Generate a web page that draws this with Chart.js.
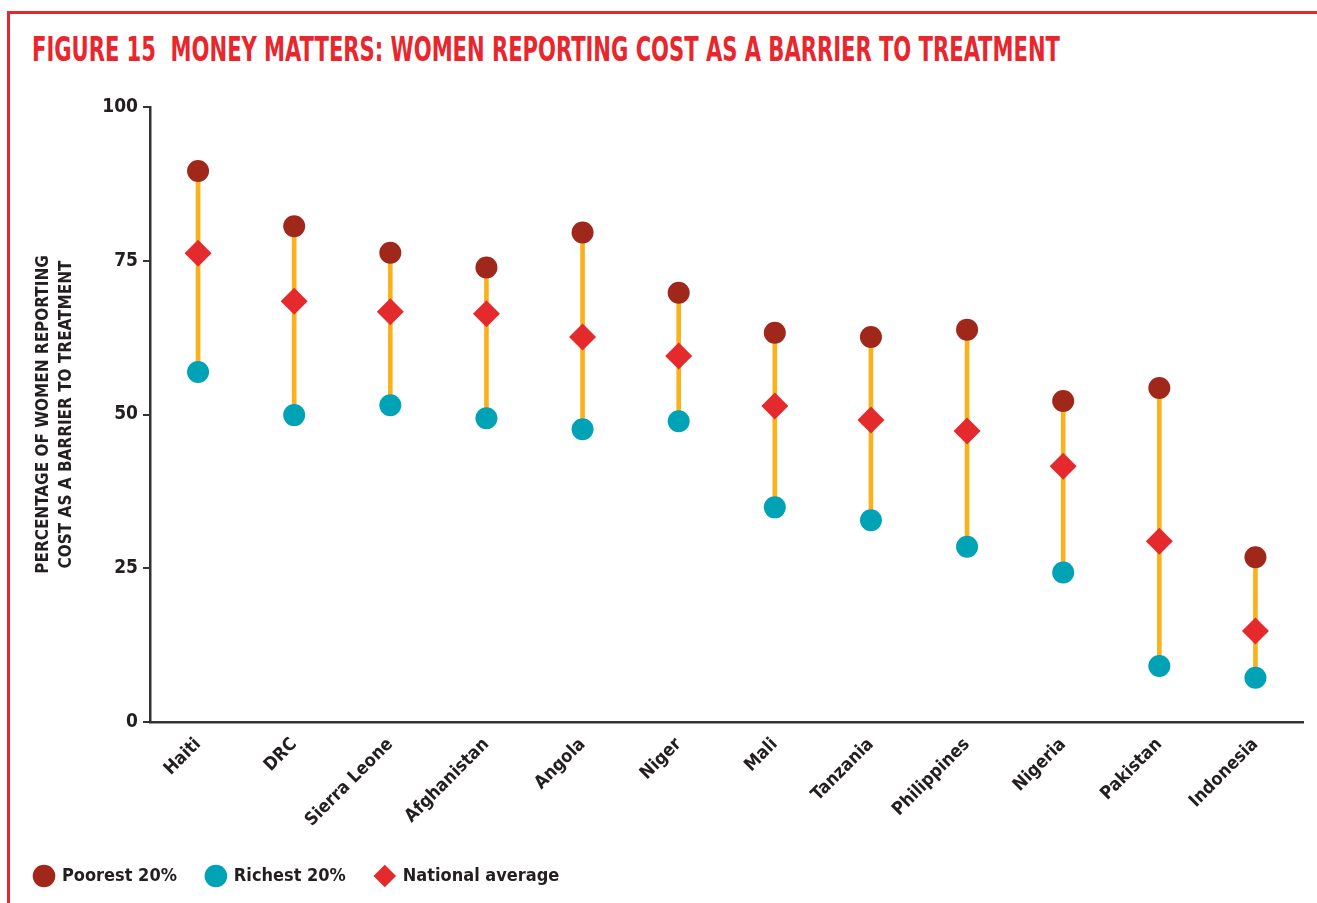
<!DOCTYPE html>
<html>
<head>
<meta charset="utf-8">
<script src="https://cdn.jsdelivr.net/npm/chart.js@4"></script>
<style>
  html, body { margin: 0; padding: 0; background: #fff; }
  #wrap { position: relative; width: 1317px; height: 903px; overflow: hidden; }
  #frame { position: absolute; left: 7px; top: 11px; right: -10px; bottom: -10px;
           border-top: 3px solid #E8262D; border-left: 3px solid #E8262D; }
  #title { position: absolute; left: 32px; top: 29px; white-space: nowrap;
           font-family: "Liberation Sans Narrow", "DejaVu Sans Condensed", sans-serif;
           font-weight: bold; font-size: 34px; color: #E8262D; transform-origin: 0 0; }
  canvas { position: absolute; left: 0; top: 0; }
</style>
</head>
<body>
<div id="wrap">
  <div id="frame"></div>
  <div id="title">FIGURE 15&nbsp;&nbsp;MONEY MATTERS: WOMEN REPORTING COST AS A BARRIER TO TREATMENT</div>
  <canvas id="chart" width="1317" height="903"></canvas>
</div>
<script>
const countries = ['Haiti', 'DRC', 'Sierra Leone', 'Afghanistan', 'Angola', 'Niger', 'Mali',
  'Tanzania', 'Philippines', 'Nigeria', 'Pakistan', 'Indonesia'];
const poorest = [89.6, 80.6, 76.3, 73.9, 79.6, 69.8, 63.3, 62.6, 63.8, 52.2, 54.3, 26.8];
const richest = [56.9, 49.9, 51.5, 49.4, 47.6, 48.9, 34.9, 32.8, 28.5, 24.3, 9.1, 7.2];
const national = [76.2, 68.4, 66.7, 66.4, 62.6, 59.5, 51.4, 49.1, 47.3, 41.6, 29.4, 14.8];
const yTicks = [0, 25, 50, 75, 100];

const FONT = '"Liberation Sans Narrow", "DejaVu Sans Condensed", sans-serif';
const INK = '#231F20';

// squeeze the title to the width it has in the print version
const title = document.getElementById('title');
title.style.transform = `scaleX(${1028 / title.scrollWidth})`;

const ranges = richest.map((r, i) => [r, poorest[i]]);

new Chart(document.getElementById('chart'), {
  type: 'bar',
  data: {
    labels: countries,
    datasets: [
      { type: 'bar', label: 'range', data: ranges, backgroundColor: '#F9B21C',
        barThickness: 4, order: 5 },
      { type: 'line', label: 'Poorest 20%', data: poorest, showLine: false,
        pointStyle: 'circle', pointRadius: 11, pointHoverRadius: 11,
        backgroundColor: '#A0281A', borderColor: '#A0281A', borderWidth: 0, order: 2 },
      { type: 'line', label: 'Richest 20%', data: richest, showLine: false,
        pointStyle: 'circle', pointRadius: 11, pointHoverRadius: 11,
        backgroundColor: '#00A3B5', borderColor: '#00A3B5', borderWidth: 0, order: 2 },
      { type: 'line', label: 'National average', data: national, showLine: false,
        pointStyle: 'rectRot', pointRadius: 13.5, pointHoverRadius: 13.5,
        backgroundColor: '#E52A2D', borderColor: '#E52A2D', borderWidth: 0, order: 1 }
    ]
  },
  options: {
    responsive: false,
    animation: false,
    layout: { padding: { top: 107, right: 13, bottom: 8, left: 5 } },
    plugins: {
      tooltip: { enabled: false },
      legend: {
        position: 'bottom',
        align: 'start',
        labels: {
          filter: item => item.text !== 'range',
          sort: (a, b) => a.datasetIndex - b.datasetIndex,
          usePointStyle: true,
          boxHeight: 16,
          padding: 30,
          color: INK,
          font: { family: FONT, weight: 'bold', size: 18 }
        }
      }
    },
    scales: {
      x: {
        grid: { display: false },
        border: { display: true, color: '#333', width: 2.5 },
        ticks: { color: INK, font: { family: FONT, weight: 'bold', size: 18 },
          maxRotation: 45, minRotation: 45, padding: 4 },
        afterFit: s => { s.height = 115; }
      },
      y: {
        min: 0, max: 100,
        afterBuildTicks: s => { s.ticks = yTicks.map(v => ({ value: v })); },
        grid: { display: true, drawOnChartArea: false, drawTicks: true, tickLength: 7,
          color: '#333', lineWidth: 2 },
        border: { display: true, color: '#333', width: 2.5 },
        ticks: { color: INK, font: { family: FONT, weight: 'bold', size: 19 }, padding: 5 },
        title: {
          display: true,
          text: ['PERCENTAGE OF WOMEN REPORTING', 'COST AS A BARRIER TO TREATMENT'],
          color: INK,
          font: { family: FONT, weight: 'bold', size: 17, lineHeight: 1.35 },
          padding: { top: 27, bottom: 10 }
        },
        afterFit: s => { s.width = 145; }
      }
    }
  }
});
</script>
</body>
</html>
